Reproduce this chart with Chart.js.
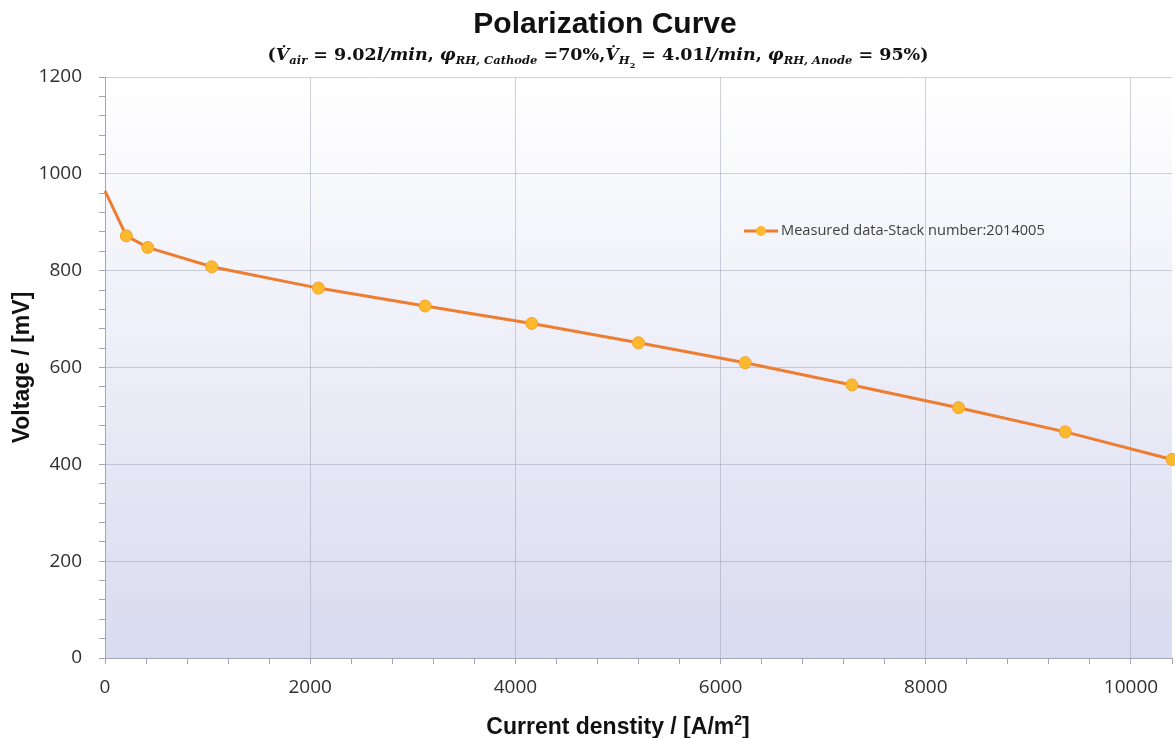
<!DOCTYPE html>
<html>
<head>
<meta charset="utf-8">
<title>Polarization Curve</title>
<script src="https://cdn.jsdelivr.net/npm/chart.js@4.4.1/dist/chart.umd.min.js"></script>
<style>
  html, body { margin: 0; padding: 0; background: #fff; }
  #wrap { width: 1175px; height: 738px; position: relative; }
</style>
</head>
<body>
<div id="wrap"><canvas id="polar" width="1175" height="738"></canvas></div>
<script>
/* Polarization curve of the fuel cell stack */

const currentDensity = [0, 208, 416, 1040, 2080, 3120, 4160, 5200, 6240, 7280, 8320, 9360, 10400];
const voltage        = [965, 872, 848, 808, 764, 727, 691, 651, 610, 564, 517, 467, 410];
const xMajorTicks = [0, 2000, 4000, 6000, 8000, 10000];
const yMajorTicks = [0, 200, 400, 600, 800, 1000, 1200];
const seriesLabel = 'Measured data-Stack number:2014005';

const LINE = '#ED7D31';
const MARKER = '#FDB92E';
const MARKER_EDGE = '#F4A22C';
const AXIS = '#a4a6b8';
const GRID = 'rgba(150, 152, 172, 0.45)';
const TEXT = '#111111';
const TICK_TEXT = '#303030';

// subtitle pieces: [text, kind]  kind: 'n' upright, 'i' italic, 's' subscript, 'ss' second-level subscript
const subtitleParts = [
  ['(', 'n'], ['V\u0307', 'i'], ['air', 's'], [' = ', 'n'], ['9.02', 'n'], ['l/min', 'i'], [', ', 'n'],
  ['\u03C6', 'i'], ['RH, Cathode', 's'], [' =70%,', 'n'],
  ['V\u0307', 'i'], ['H', 's'], ['2', 'ss'], [' = ', 'n'], ['4.01', 'n'], ['l/min', 'i'], [', ', 'n'],
  ['\u03C6', 'i'], ['RH, Anode', 's'], [' = 95%)', 'n'],
];

const SERIF = '"DejaVu Serif", "Liberation Serif", serif';
const subFonts = {
  n:  { font: `bold 17.5px ${SERIF}`, dy: 0 },
  i:  { font: `italic bold 17.5px ${SERIF}`, dy: 0 },
  s:  { font: `italic bold 11.5px ${SERIF}`, dy: 4 },
  ss: { font: `bold 8px ${SERIF}`, dy: 8 },
};

const isMajor = (list, v) => list.includes(Math.round(v));

// gradient fill behind the plot
const plotBackground = {
  id: 'plotBackground',
  beforeDraw(chart) {
    const { ctx, chartArea: a } = chart;
    const g = ctx.createLinearGradient(0, a.top, 0, a.bottom);
    g.addColorStop(0, '#ffffff');
    g.addColorStop(1, '#d9dbef');
    ctx.save();
    ctx.fillStyle = g;
    ctx.fillRect(a.left, a.top, a.right - a.left, a.bottom - a.top);
    ctx.restore();
  },
};

// titles, x axis caption and the in-plot legend
const chartLabels = {
  id: 'chartLabels',
  afterDraw(chart) {
    const { ctx } = chart;
    ctx.save();
    ctx.fillStyle = TEXT;
    ctx.textBaseline = 'middle';
    ctx.textAlign = 'center';
    ctx.font = 'bold 30px "Liberation Sans", Arial, sans-serif';
    ctx.fillText('Polarization Curve', 605, 25);

    // subtitle with subscripts
    ctx.textAlign = 'left';
    ctx.textBaseline = 'alphabetic';
    let total = 0;
    subtitleParts.forEach(([t, k]) => { ctx.font = subFonts[k].font; total += ctx.measureText(t).width; });
    let x = 598 - total / 2;
    subtitleParts.forEach(([t, k]) => {
      ctx.font = subFonts[k].font;
      ctx.fillText(t, x, 60 + subFonts[k].dy);
      x += ctx.measureText(t).width;
    });

    // x axis caption with superscript
    const big = 'bold 23px "Liberation Sans", Arial, sans-serif';
    const small = 'bold 14px "Liberation Sans", Arial, sans-serif';
    const cap = 'Current denstity / [A/m';
    const sup = '2';
    const close = ']';
    ctx.font = big;
    const w1 = ctx.measureText(cap).width;
    const w3 = ctx.measureText(close).width;
    ctx.font = small;
    const w2 = ctx.measureText(sup).width;
    let cx = 618 - (w1 + w2 + w3) / 2;
    ctx.font = big;
    ctx.fillText(cap, cx, 734);
    cx += w1;
    ctx.font = small;
    ctx.fillText(sup, cx, 725);
    cx += w2;
    ctx.font = big;
    ctx.fillText(close, cx, 734);

    // legend entry
    const ds = chart.data.datasets[0];
    const ly = 231;
    ctx.strokeStyle = ds.borderColor;
    ctx.lineWidth = ds.borderWidth;
    ctx.beginPath();
    ctx.moveTo(744, ly);
    ctx.lineTo(778, ly);
    ctx.stroke();
    ctx.beginPath();
    ctx.arc(761, ly, 5, 0, Math.PI * 2);
    ctx.fillStyle = ds.pointBackgroundColor;
    ctx.fill();
    ctx.fillStyle = '#404040';
    ctx.font = '14.6px "Open Sans", sans-serif';
    ctx.textBaseline = 'middle';
    ctx.fillText(seriesLabel, 781, ly);
    ctx.restore();
  },
};

new Chart(document.getElementById('polar'), {
  type: 'line',
  data: {
    datasets: [{
      label: seriesLabel,
      data: currentDensity.map((x, i) => ({ x, y: voltage[i] })),
      borderColor: LINE,
      borderWidth: 3,
      pointBackgroundColor: MARKER,
      pointBorderColor: MARKER_EDGE,
      pointBorderWidth: 1,
      pointRadius: (c) => (c.dataIndex === 0 ? 0 : 6),
      tension: 0,
      clip: 10,
    }],
  },
  options: {
    responsive: false,
    animation: false,
    layout: { autoPadding: false, padding: { top: 77, right: 3, left: 0, bottom: 0 } },
    plugins: {
      legend: { display: false },
      tooltip: { enabled: false },
      title: { display: false },
    },
    scales: {
      x: {
        type: 'linear',
        min: 0,
        max: 10400,
        afterFit: (s) => { s.height = 80; s.paddingLeft = 0; s.paddingRight = 0; },
        border: { display: true, color: AXIS, width: 1 },
        grid: {
          color: (c) => (c.tick && isMajor(xMajorTicks, c.tick.value) ? GRID : 'rgba(0,0,0,0)'),
          tickColor: AXIS,
          tickLength: 6,
        },
        ticks: {
          stepSize: 400,
          autoSkip: false,
          maxRotation: 0,
          padding: 12,
          color: TICK_TEXT,
          font: { family: 'Open Sans', size: 19 },
          callback: (v) => (isMajor(xMajorTicks, v) ? String(Math.round(v)) : ''),
        },
      },
      y: {
        min: 0,
        max: 1200,
        afterFit: (s) => { s.width = 105; },
        border: { display: true, color: AXIS, width: 1 },
        grid: {
          color: (c) => (c.tick && isMajor(yMajorTicks, c.tick.value) ? GRID : 'rgba(0,0,0,0)'),
          tickColor: AXIS,
          tickLength: 6,
        },
        ticks: {
          stepSize: 40,
          autoSkip: false,
          padding: 17,
          color: TICK_TEXT,
          font: { family: 'Open Sans', size: 19 },
          callback: (v) => (isMajor(yMajorTicks, v) ? String(Math.round(v)) : ''),
        },
        title: {
          display: true,
          text: 'Voltage / [mV]',
          color: TEXT,
          font: { family: 'Liberation Sans', size: 23, weight: 'bold' },
          padding: { top: 9, bottom: 0 },
        },
      },
    },
  },
  plugins: [plotBackground, chartLabels],
});
</script>
</body>
</html>
